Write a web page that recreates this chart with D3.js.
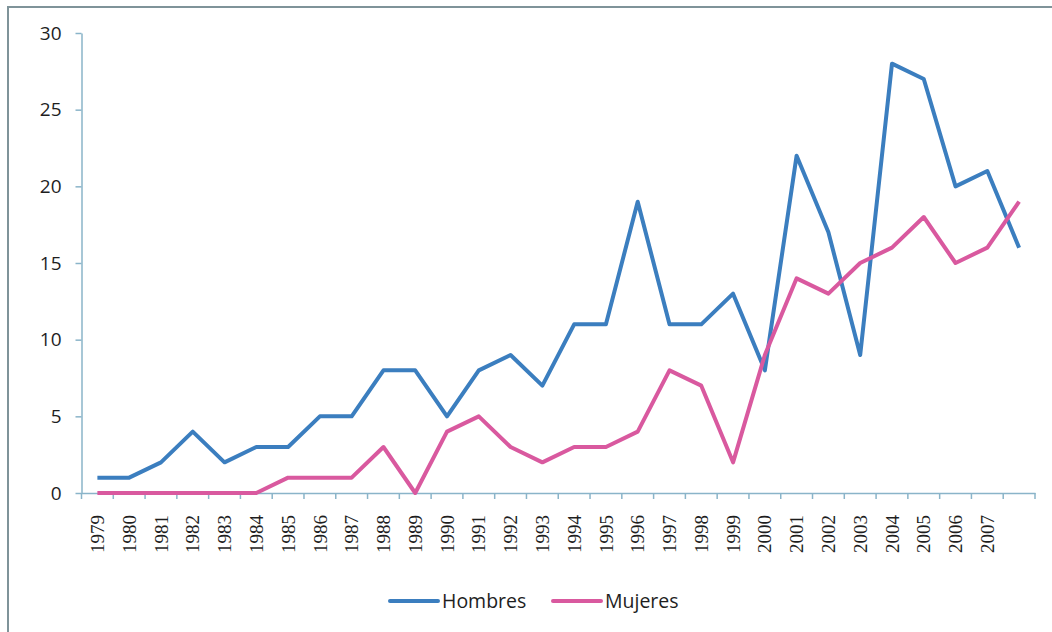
<!DOCTYPE html>
<html>
<head>
<meta charset="utf-8">
<script src="https://cdn.jsdelivr.net/npm/d3@7"></script>
<style>
  html, body { margin: 0; padding: 0; background: #fff; }
  svg { display: block; }
</style>
</head>
<body>
<svg id="chart" width="1052" height="632"></svg>
<script>
// ---- data ----
const years = [1979,1980,1981,1982,1983,1984,1985,1986,1987,1988,1989,1990,1991,1992,1993,1994,1995,1996,1997,1998,1999,2000,2001,2002,2003,2004,2005,2006,2007,2008];
const tickLabels = ["1979","1980","1981","1982","1983","1984","1985","1986","1987","1988","1989","1990","1991","1992","1993","1994","1995","1996","1997","1998","1999","2000","2001","2002","2003","2004","2005","2006","2007",""];
const hombres = [1,1,2,4,2,3,3,5,5,8,8,5,8,9,7,11,11,19,11,11,13,8,22,17,9,28,27,20,21,16];
const mujeres = [0,0,0,0,0,0,1,1,1,3,0,4,5,3,2,3,3,4,8,7,2,9,14,13,15,16,18,15,16,19];
const yTicks = [0,5,10,15,20,25,30];
const seriesNames = ["Hombres","Mujeres"];
const seriesColors = ["#3b7ebf","#d9599f"];

// ---- layout ----
const svg = d3.select("#chart");
const plotLeft = 81.5, plotRight = 1035, plotTop = 33, plotBottom = 493;
const axisColor = "#8ab4c9";

// outer frame (top and left edges visible)
svg.append("line").attr("x1",8).attr("x2",1052).attr("y1",7).attr("y2",7)
  .attr("stroke","#7f9399").attr("stroke-width",2);
svg.append("line").attr("x1",8).attr("x2",8).attr("y1",6).attr("y2",632)
  .attr("stroke","#7f9399").attr("stroke-width",2);

const x = d3.scaleBand().domain(years).range([plotLeft, plotRight]).padding(0);
const y = d3.scaleLinear().domain([0,30]).range([plotBottom, plotTop]);
const cx = d => x(d) + x.bandwidth()/2;

// y axis
const yAxis = svg.append("g").attr("transform",`translate(${plotLeft},0)`)
  .call(d3.axisLeft(y).tickValues(yTicks).tickSize(6).tickPadding(14).tickSizeOuter(0));
yAxis.select(".domain").attr("stroke",axisColor).attr("stroke-width",1.5);
yAxis.selectAll(".tick line").attr("stroke",axisColor).attr("stroke-width",1.5);
yAxis.selectAll(".tick text")
  .attr("font-family","'Open Sans', sans-serif").attr("font-size",19).attr("fill","#1e1e1e");

// x axis: category labels at centres, tick marks on boundaries
const xAxis = svg.append("g").attr("transform",`translate(0,${plotBottom})`)
  .call(d3.axisBottom(x).tickSize(0).tickSizeOuter(0).tickFormat((d,i) => tickLabels[i]));
xAxis.select(".domain").attr("stroke",axisColor).attr("stroke-width",1.5);
xAxis.selectAll(".tick text")
  .attr("font-family","'Liberation Serif', 'Times New Roman', serif")
  .attr("font-size",19).attr("fill","#1e1e1e")
  .attr("text-anchor","end")
  .attr("transform","rotate(-90)")
  .attr("x",-22).attr("y",0).attr("dy","0.35em");
const boundaries = years.map(d => x(d)).concat([x(years[years.length-1]) + x.bandwidth()]);
svg.append("g").selectAll("line").data(boundaries).join("line")
  .attr("x1",d=>d).attr("x2",d=>d).attr("y1",plotBottom).attr("y2",plotBottom+6)
  .attr("stroke",axisColor).attr("stroke-width",1.5);

// lines
const line = d3.line().x((d,i) => cx(years[i])).y(d => y(d));
[hombres, mujeres].forEach((s,k) => {
  svg.append("path").datum(s).attr("d",line)
    .attr("fill","none").attr("stroke",seriesColors[k]).attr("stroke-width",4)
    .attr("stroke-linejoin","round").attr("stroke-linecap","butt");
});

// legend
const legendItems = [{x:390},{x:553}];
seriesNames.forEach((name,k) => {
  const g = svg.append("g").attr("transform",`translate(${legendItems[k].x},601)`);
  g.append("line").attr("x1",0).attr("x2",48).attr("y1",0).attr("y2",0)
    .attr("stroke",seriesColors[k]).attr("stroke-width",4).attr("stroke-linecap","round");
  g.append("text").attr("x",52).attr("y",0).attr("dy","0.35em")
    .attr("font-family","'Open Sans', sans-serif").attr("font-size",19.5).attr("fill","#1e1e1e")
    .text(name);
});
</script>
</body>
</html>
